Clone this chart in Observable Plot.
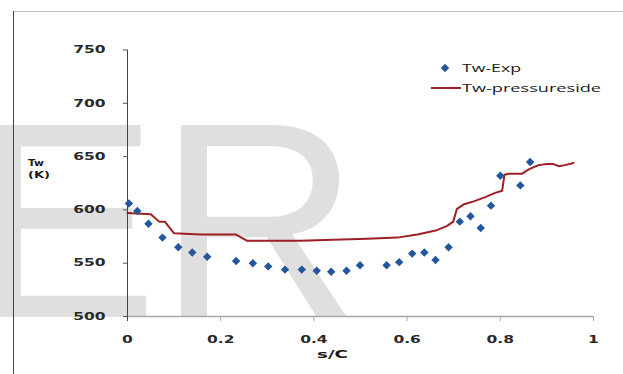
<!DOCTYPE html>
<html><head><meta charset="utf-8">
<script src="https://cdn.jsdelivr.net/npm/d3@7"></script>
<script src="https://cdn.jsdelivr.net/npm/@observablehq/plot@0.6"></script>
<style>
html,body{margin:0;padding:0;background:#fff;}
#wrap{position:relative;width:623px;height:374px;overflow:hidden;background:#fff;}
#wrap > svg{position:absolute;left:0;top:0;}
</style>
</head><body>
<div id="wrap"></div>
<script>
// ---- data ----
const expS  = [0.003, 0.021, 0.045, 0.075, 0.109, 0.139, 0.171, 0.233, 0.269, 0.302, 0.338, 0.374, 0.406, 0.437, 0.470, 0.499, 0.556, 0.583, 0.611, 0.637, 0.661, 0.689, 0.713, 0.736, 0.758, 0.780, 0.800, 0.843, 0.864];
const expTw = [606, 599, 587, 574, 565, 560, 556, 552, 550, 547, 544, 544, 543, 542, 543, 548, 548, 551, 559, 560, 553, 565, 589, 594, 583, 604, 632, 623, 645];
const simS  = [0.000, 0.050, 0.068, 0.080, 0.100, 0.157, 0.232, 0.257, 0.286, 0.371, 0.443, 0.514, 0.579, 0.622, 0.664, 0.686, 0.699, 0.707, 0.721, 0.743, 0.768, 0.789, 0.804, 0.809, 0.818, 0.847, 0.861, 0.882, 0.900, 0.914, 0.925, 0.939, 0.957];
const simTw = [597, 596, 589, 589, 578, 577, 577, 571, 571, 571, 572, 573, 574, 577, 581, 585, 589, 601, 605, 608, 612, 616, 618, 633, 634, 634, 638, 642, 643, 643, 641, 642, 644];
const xTicks = [0, 0.2, 0.4, 0.6, 0.8, 1];
const yTicks = [500, 550, 600, 650, 700, 750];
const seriesNames = ["Tw-Exp", "Tw-pressureside"];
const xTitle = "s/C";
const yTitle = ["Tw", "(K)"];
const watermark = "ER";

const expData = expS.map((s, i) => ({s, tw: expTw[i]}));
const simData = simS.map((s, i) => ({s, tw: simTw[i]}));

const BLUE = "#23579b", RED = "#9e1f24";
const wrap = d3.select("#wrap");
const W = 623, H = 374;

// watermark (behind)
const bg = wrap.append("svg").attr("width", W).attr("height", H);
bg.append("text").attr("x", -28).attr("y", 317)
  .attr("font-family", "Liberation Sans, Arial, sans-serif").attr("font-size", 279)
  .attr("fill", "#dfdfdf").text(watermark);

const chart = Plot.plot({
  width: W, height: H,
  marginLeft: 127, marginRight: 30, marginTop: 49.5, marginBottom: 58,
  style: {background: "transparent", fontFamily: "DejaVu Sans, sans-serif", fontSize: "10px", fontWeight: "bold", color: "#2a2a2a"},
  x: {domain: [0, 1]},
  y: {domain: [500, 750]},
  marks: [
    Plot.ruleY([500], {stroke: "#a8a8a8", strokeWidth: 1.3}),
    Plot.axisX({ticks: xTicks, tickFormat: d => String(d), tickSize: 5, tickPadding: 14, stroke: "#a8a8a8", fill: "#2a2a2a", label: null}),
    Plot.axisY({ticks: yTicks, tickFormat: d => String(d), tickSize: 4, tickPadding: 18, stroke: "#555", fill: "#2a2a2a", label: null}),
    Plot.ruleX([0], {stroke: "#444", insetBottom: -5}),
    Plot.line(simData, {x: "s", y: "tw", stroke: RED, strokeWidth: 2}),
    Plot.dot(expData, {x: "s", y: "tw", symbol: "diamond2", r: 3.8, fill: BLUE, stroke: "none"})
  ]
});
wrap.node().appendChild(chart);

// horizontal stretch of the tick labels, as in the reference
const S = 1.55;
d3.select(chart).selectAll("text").each(function () {
  const x = +this.getAttribute("x") || 0, y = +this.getAttribute("y") || 0;
  const t = this.getAttribute("transform") || "";
  this.setAttribute("transform", `${t} translate(${x},${y}) scale(${S},1) translate(${-x},${-y})`);
});

// overlay: frame, legend, axis titles
const ov = wrap.append("svg").attr("width", W).attr("height", H);
ov.append("line").attr("x1", 13).attr("x2", W).attr("y1", 11.5).attr("y2", 11.5).attr("stroke", "#c4c4c4");
ov.append("line").attr("x1", 13.5).attr("x2", 13.5).attr("y1", 11).attr("y2", H).attr("stroke", "#444");

ov.append("path").attr("d", d3.symbol(d3.symbolDiamond2, Math.PI * 3.8 * 3.8)())
  .attr("transform", "translate(445,68)").attr("fill", BLUE);
ov.append("line").attr("x1", 431).attr("x2", 461).attr("y1", 88).attr("y2", 88).attr("stroke", RED).attr("stroke-width", 2);

function label(txt, x, y, len, opts = {}) {
  ov.append("text").attr("x", x).attr("y", y)
    .attr("font-family", opts.family || "Open Sans, sans-serif")
    .attr("font-size", opts.size || 11).attr("font-weight", opts.weight || "normal")
    .attr("fill", "#1a1a1a")
    .attr("textLength", len).attr("lengthAdjust", "spacingAndGlyphs").text(txt);
}
label(seriesNames[0], 462, 71.5, 59);
label(seriesNames[1], 462, 92, 139);
label(yTitle[0], 28, 166, 16, {family: "DejaVu Sans, sans-serif", size: 9.5, weight: "bold"});
label(yTitle[1], 28, 178, 22, {family: "DejaVu Sans, sans-serif", size: 9.5, weight: "bold"});
label(xTitle, 317, 358, 31, {family: "DejaVu Sans, sans-serif", size: 10, weight: "bold"});
</script>
</body></html>
